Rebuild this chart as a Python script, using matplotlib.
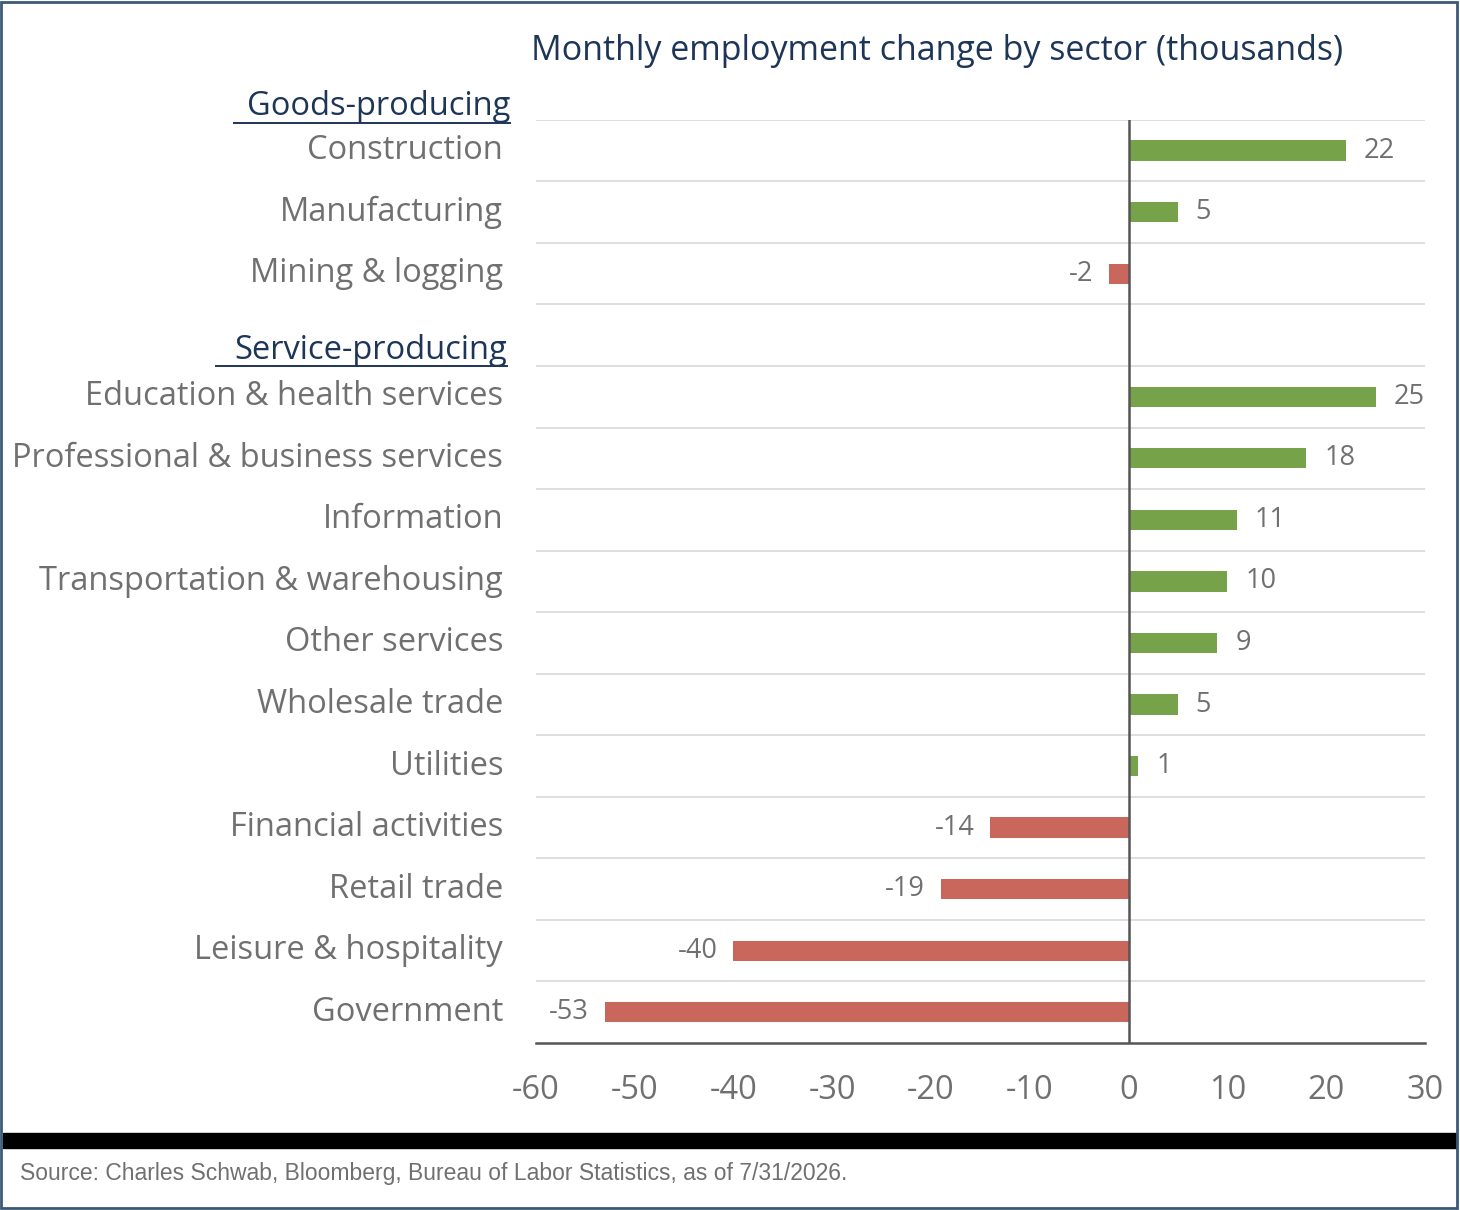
import matplotlib.pyplot as plt
from matplotlib.patches import Rectangle

plt.rcParams['font.family'] = ['Open Sans', 'DejaVu Sans']

goods = ['Construction', 'Manufacturing', 'Mining & logging']
goods_vals = [22, 5, -2]
services = ['Education & health services', 'Professional & business services', 'Information',
            'Transportation & warehousing', 'Other services', 'Wholesale trade', 'Utilities',
            'Financial activities', 'Retail trade', 'Leisure & hospitality', 'Government']
service_vals = [25, 18, 11, 10, 9, 5, 1, -14, -19, -40, -53]
xticks = [-60, -50, -40, -30, -20, -10, 0, 10, 20, 30]

green = '#76a34a'
red = '#c9675c'
gray = '#707070'
navy = '#1d3557'

labels = goods + [''] + services
vals = goods_vals + [None] + service_vals

fig = plt.figure(figsize=(14.6, 12.1), dpi=100)
ax = fig.add_axes([0.367, 0.138, 0.609, 0.763])

for i, (lab, v) in enumerate(zip(labels, vals)):
    if v is None:
        continue
    ax.barh(i, v, height=0.33, color=green if v > 0 else red, zorder=3)
    if v > 0:
        ax.text(v + 1.8, i, str(v), va='center', ha='left', fontsize=19.5, color=gray)
    else:
        ax.text(v - 1.6, i, str(v), va='center', ha='right', fontsize=19.5, color=gray)
    ax.text(-63.3, i, lab, va='center', ha='right', fontsize=23.5, color=gray)

ax.text(-62.6, -0.72, 'Goods-producing', va='center', ha='right', fontsize=23.5, color=navy)
ax.text(-62.9, 3.25, 'Service-producing', va='center', ha='right', fontsize=23.5, color=navy)
# underlines for the group headers
ax.plot([-90.6, -62.6], [-0.45, -0.45], color=navy, lw=1.4, clip_on=False)
ax.plot([-92.4, -62.9], [3.5, 3.5], color=navy, lw=1.4, clip_on=False)

for b in [i - 0.5 for i in range(15)]:
    ax.axhline(b, color='#d9d9d9', lw=1.2, zorder=1)
ax.axvline(0, color='#555555', lw=1.8, zorder=4)

ax.set_xlim(-60, 30)
ax.set_ylim(14.5, -0.5)
ax.set_xticks(xticks)
ax.set_xticklabels([str(t) for t in xticks], fontsize=23.5, color=gray)
ax.set_yticks([])
ax.tick_params(axis='x', length=0, pad=22)
for s in ['top', 'right', 'left']:
    ax.spines[s].set_visible(False)
ax.spines['bottom'].set_color('#555555')
ax.spines['bottom'].set_linewidth(1.8)

fig.text(0.642, 0.958, 'Monthly employment change by sector (thousands)', ha='center', va='center',
         fontsize=24.5, color=navy)

fig.patches.append(Rectangle((0.002, 0.051), 0.996, 0.013, transform=fig.transFigure,
                             color='black', zorder=5))
fig.patches.append(Rectangle((0.001, 0.002), 0.997, 0.996, transform=fig.transFigure,
                             fill=False, edgecolor='#3b5a78', lw=2, zorder=5))
fig.text(0.014, 0.03, 'Source: Charles Schwab, Bloomberg, Bureau of Labor Statistics, as of 7/31/2026.',
         ha='left', va='center', fontsize=16.5, color=gray, family=['Liberation Sans', 'DejaVu Sans'])

fig.savefig('out.png', dpi=100, facecolor='white')
